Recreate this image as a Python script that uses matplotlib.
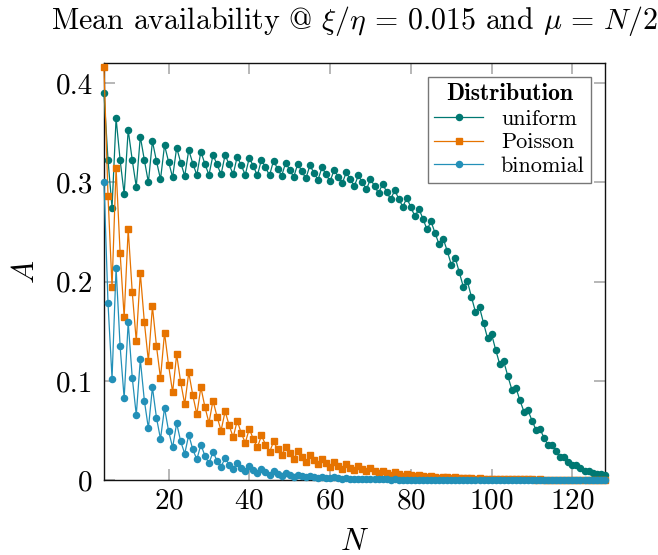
import numpy as np
import matplotlib
matplotlib.use('Agg')
import matplotlib.pyplot as plt

plt.rcParams['font.family'] = 'serif'
plt.rcParams['font.serif'] = ['cmr10', 'DejaVu Serif']
plt.rcParams['mathtext.fontset'] = 'cm'
plt.rcParams['axes.unicode_minus'] = False
plt.rcParams['axes.formatter.use_mathtext'] = True

N = list(range(4, 129))

uniform = [
    0.390, 0.3225, 0.2744, 0.3646, 0.3225, 0.2882, 0.3528, 0.3225, 0.2956, 0.3461,
    0.3225, 0.300, 0.3414, 0.3215, 0.303, 0.3374, 0.3208, 0.305, 0.335, 0.320,
    0.3064, 0.3326, 0.319, 0.3074, 0.331, 0.3185, 0.3074, 0.3276, 0.318, 0.308,
    0.3276, 0.318, 0.308, 0.326, 0.317, 0.3076, 0.325, 0.316, 0.307, 0.323,
    0.315, 0.307, 0.322, 0.3135, 0.3064, 0.320, 0.3124, 0.3054, 0.3188, 0.311,
    0.304, 0.317, 0.3097, 0.3026, 0.315, 0.308, 0.301, 0.3127, 0.3057, 0.299,
    0.310, 0.303, 0.2963, 0.307, 0.300, 0.293, 0.3033, 0.2963, 0.289, 0.2986,
    0.2905, 0.2828, 0.2922, 0.2834, 0.2754, 0.2842, 0.275, 0.2657, 0.2733, 0.2632,
    0.2525, 0.2606, 0.2488, 0.2374, 0.2434, 0.2309, 0.2172, 0.2238, 0.2092, 0.1946,
    0.2003, 0.1845, 0.1693, 0.174, 0.1582, 0.1427, 0.1468, 0.1313, 0.1168, 0.1195,
    0.105, 0.0912, 0.0932, 0.0804, 0.069, 0.0703, 0.0599, 0.0505, 0.0511, 0.0424,
    0.035, 0.0357, 0.0289, 0.0232, 0.0235, 0.0185, 0.0147, 0.0151, 0.0121, 0.009,
    0.009, 0.0074, 0.0057, 0.0057, 0.0047,
]

poisson = [
    0.416, 0.2865, 0.1946, 0.3148, 0.2289, 0.1643, 0.2528, 0.1895, 0.140, 0.2087,
    0.1592, 0.1198, 0.175, 0.135, 0.1026, 0.1485, 0.1158, 0.0885, 0.1266, 0.0986,
    0.0764, 0.1084, 0.0855, 0.0663, 0.0935, 0.0737, 0.0576, 0.0801, 0.0639, 0.0498,
    0.0693, 0.0552, 0.043, 0.0599, 0.0471, 0.0377, 0.0518, 0.041, 0.0329, 0.045,
    0.0357, 0.0279, 0.039, 0.031, 0.0249, 0.0333, 0.0269, 0.0212, 0.0289, 0.0232,
    0.0182, 0.0253, 0.0198, 0.0158, 0.0212, 0.0172, 0.0134, 0.0185, 0.0145, 0.0114,
    0.0158, 0.0124, 0.0097, 0.0137, 0.0107, 0.0087, 0.0117, 0.009, 0.007, 0.0095,
    0.0073, 0.0056, 0.0077, 0.0059, 0.0045, 0.0062, 0.0048, 0.0037, 0.005, 0.0039,
    0.003, 0.0041, 0.0032, 0.0025, 0.0033, 0.0026, 0.002, 0.0027, 0.0021, 0.0017,
    0.0022, 0.0017, 0.0014, 0.0018, 0.0014, 0.0011, 0.0015, 0.0012, 0.0009, 0.0012,
    0.0009, 0.0007, 0.001, 0.0008, 0.0006, 0.0008, 0.0006, 0.0005, 0.0006, 0.0005,
    0.0004, 0.0005, 0.0004, 0.0003, 0.0004, 0.0003, 0.0003, 0.0003, 0.0002, 0.0002,
    0.0003, 0.0002, 0.0002, 0.0002, 0.0001,
]

binomial = [
    0.3006, 0.1784, 0.1023, 0.2141, 0.1346, 0.0824, 0.1592, 0.1033, 0.0656, 0.1215,
    0.0801, 0.0521, 0.0935, 0.0629, 0.0414, 0.0727, 0.0495, 0.0329, 0.0572, 0.039,
    0.0266, 0.0455, 0.0309, 0.0208, 0.0357, 0.0245, 0.0168, 0.0283, 0.0195, 0.0134,
    0.0222, 0.0155, 0.0107, 0.0175, 0.0121, 0.0087, 0.0141, 0.0101, 0.0071, 0.0111,
    0.0078, 0.0055, 0.0092, 0.0064, 0.0044, 0.0071, 0.005, 0.0035, 0.0055, 0.0039,
    0.0027, 0.0043, 0.003, 0.0021, 0.0033, 0.0023, 0.0016, 0.0026, 0.0018, 0.0013,
    0.002, 0.0014, 0.001, 0.0015, 0.0011, 0.0008, 0.0012, 0.0008, 0.0006, 0.0009,
    0.0006, 0.0005, 0.0007, 0.0005, 0.0004, 0.0005, 0.0004, 0.0003, 0.0004, 0.0003,
    0.0002, 0.0003, 0.0002, 0.0002, 0.0002, 0.0002, 0.0001, 0.0001, 0.0001, 0.0001,
    0.0001, 0.0001, 0.0001, 0.0001, 0.0001, 0.0001, 0.0001, 0.0, 0.0, 0.0,
    0.0, 0.0, 0.0, 0.0, 0.0, 0.0, 0.0, 0.0, 0.0, 0.0,
    0.0, 0.0, 0.0, 0.0, 0.0, 0.0, 0.0, 0.0, 0.0, 0.0,
    0.0, 0.0, 0.0, 0.0, 0.0,
]

c_uni = '#007872'
c_poi = '#e67300'
c_bin = '#2390b8'

fig = plt.figure(figsize=(6.58, 5.55), dpi=100)
ax = fig.add_axes([0.158, 0.135, 0.761, 0.751])

ax.plot(N, uniform, '-o', color=c_uni, lw=0.9, ms=4.4, clip_on=False, zorder=3, label='uniform')
ax.plot(N, poisson, '-s', color=c_poi, lw=0.9, ms=4.0, clip_on=False, zorder=4, label='Poisson')
ax.plot(N, binomial, '-o', color=c_bin, lw=0.9, ms=4.4, clip_on=False, zorder=5, label='binomial')

ax.set_xlim(4, 128)
ax.set_ylim(0, 0.42)
ax.set_xticks([20, 40, 60, 80, 100, 120])
ax.set_yticks([0, 0.1, 0.2, 0.3, 0.4])
ax.set_yticklabels(['0', '0.1', '0.2', '0.3', '0.4'])
ax.tick_params(direction='in', length=8, width=1.2, color='#aaaaaa',
               top=True, right=True, labelsize=21)
ax.tick_params(axis='x', pad=6)
ax.tick_params(axis='y', pad=8)
for s in ax.spines.values():
    s.set_linewidth(1.0)
    s.set_color('#111111')

ax.set_xlabel('$N$', fontsize=22, labelpad=10)
ax.set_ylabel('$A$', fontsize=22, labelpad=11)
ax.set_title(r'Mean availability @ $\xi/\eta\,=\,0.015$ and $\mu\,=\,N/2$', fontsize=21.5, pad=25)

leg = ax.legend(loc='upper right', title='Distribution', fontsize=16, title_fontsize=17,
                frameon=True, fancybox=False, edgecolor='#555555', handlelength=2.2,
                borderpad=0.3, labelspacing=0.18, handletextpad=0.8,
                borderaxespad=0.6, markerscale=1.0)
leg.get_title().set_fontfamily('cmb10')
leg.get_frame().set_linewidth(1.0)

fig.savefig('out.png', dpi=100)
